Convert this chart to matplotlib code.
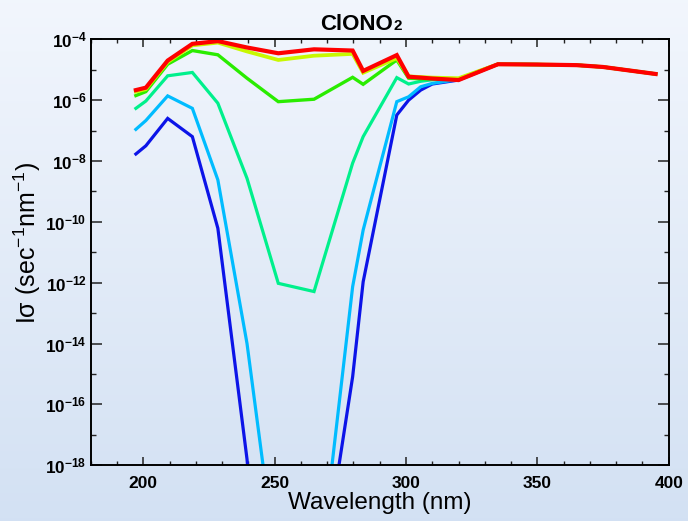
import numpy as np
import matplotlib
matplotlib.use("Agg")
import matplotlib.pyplot as plt
from matplotlib.ticker import FixedLocator, FixedFormatter

plt.rcParams['font.family'] = ['Liberation Sans', 'DejaVu Sans']
plt.rcParams['mathtext.fontset'] = 'custom'
plt.rcParams['mathtext.rm'] = 'Liberation Sans'
plt.rcParams['mathtext.bf'] = 'Liberation Sans:bold'

# ---- data (log10 of I*sigma) ----
wavelength = [197.2, 201, 209.3, 218.7, 228.4, 239.5, 251.4, 265, 279.7, 283.7,
              296.5, 301, 305.6, 310, 320, 335, 350, 365, 375, 395]
log_blue = [-7.77, -7.50, -6.60, -7.20, -10.21, -17.8, -30.0, -23.3, -15.09, -11.97,
            -6.49, -6.00, -5.67, -5.47, -5.34, -4.82, -4.83, -4.85, -4.91, -5.14]
log_sky = [-6.96, -6.67, -5.86, -6.27, -8.62, -14.0, -21.8, -23.1, -12.13, -10.27,
           -6.05, -5.89, -5.56, -5.45, -5.32, -4.82, -4.83, -4.85, -4.91, -5.14]
log_spring = [-6.27, -6.03, -5.20, -5.09, -6.10, -8.57, -12.02, -12.29, -8.07, -7.20,
              -5.26, -5.47, -5.38, -5.33, -5.30, -4.82, -4.83, -4.85, -4.91, -5.14]
log_green = [-5.85, -5.72, -4.82, -4.37, -4.51, -5.28, -6.05, -5.97, -5.25, -5.48,
             -4.68, -5.28, -5.30, -5.30, -5.30, -4.82, -4.83, -4.85, -4.91, -5.14]
log_yellow = [-5.72, -5.64, -4.75, -4.20, -4.11, -4.40, -4.68, -4.54, -4.48, -5.10,
              -4.62, -5.22, -5.24, -5.26, -5.28, -4.82, -4.83, -4.85, -4.91, -5.14]
log_red = [-5.67, -5.59, -4.70, -4.15, -4.06, -4.27, -4.46, -4.33, -4.37, -5.04,
           -4.52, -5.23, -5.26, -5.29, -5.34, -4.82, -4.83, -4.85, -4.91, -5.14]

series = [log_blue, log_sky, log_spring, log_green, log_yellow, log_red]
colors = ['#0c14e8', '#00bcff', '#00f08c', '#2aec00', '#c8f800', '#ff0000']
widths = [2.3, 2.3, 2.3, 2.4, 2.7, 3.0]

y_major = [1e-4, 1e-6, 1e-8, 1e-10, 1e-12, 1e-14, 1e-16, 1e-18]
y_labels = [r'$\mathbf{10^{-4}}$', r'$\mathbf{10^{-6}}$', r'$\mathbf{10^{-8}}$',
            r'$\mathbf{10^{-10}}$', r'$\mathbf{10^{-12}}$', r'$\mathbf{10^{-14}}$',
            r'$\mathbf{10^{-16}}$', r'$\mathbf{10^{-18}}$']
y_minor = [1e-5, 1e-7, 1e-9, 1e-11, 1e-13, 1e-15, 1e-17]
x_major = [200, 250, 300, 350, 400]

fig = plt.figure(figsize=(6.88, 5.21), dpi=100)

# background gradient
bg = fig.add_axes([0, 0, 1, 1], zorder=-10)
grad = np.linspace(0, 1, 256).reshape(-1, 1)
top = np.array([0.949, 0.965, 0.992])
bot = np.array([0.827, 0.882, 0.953])
img = top[None, None, :] * (1 - grad[:, :, None]) + bot[None, None, :] * grad[:, :, None]
bg.imshow(img, aspect='auto', extent=[0, 1, 0, 1])
bg.set_axis_off()

ax = fig.add_axes([0.1318, 0.1069, 0.972 - 0.1318, 0.9246 - 0.1069])
ax.patch.set_alpha(0)

for vals, c, lw in zip(series, colors, widths):
    ax.plot(wavelength, 10.0 ** np.array(vals), color=c, lw=lw, solid_joinstyle='miter')

ax.set_yscale('log')
ax.set_xlim(180, 400)
ax.set_ylim(1e-18, 1e-4)
ax.yaxis.set_major_locator(FixedLocator(y_major))
ax.yaxis.set_major_formatter(FixedFormatter(y_labels))
ax.yaxis.set_minor_locator(FixedLocator(y_minor))
ax.yaxis.set_minor_formatter(FixedFormatter([''] * len(y_minor)))
ax.xaxis.set_major_locator(FixedLocator(x_major))
ax.xaxis.set_minor_locator(FixedLocator(list(range(180, 401, 10))))
ax.set_xticklabels([str(v) for v in x_major], fontweight='bold', fontsize=12.5)

ax.tick_params(axis='both', which='both', direction='in', top=True, right=True, color='#222222')
ax.tick_params(axis='y', which='major', length=8, width=1.1, labelsize=12.3, pad=3)
ax.tick_params(axis='y', which='minor', length=3.8, width=1.0)
ax.tick_params(axis='x', which='major', length=6, width=1.1, pad=8)
ax.tick_params(axis='x', which='minor', length=3, width=1.0)
for s in ax.spines.values():
    s.set_linewidth(1.4)
    s.set_color('black')

ax.set_xlabel('Wavelength (nm)', fontsize=17.5, labelpad=0.5)
fig.text(0.040, 1 - 243 / 521, 'I\u03c3 (sec$^{-1}$nm$^{-1}$)', rotation=90, fontsize=18,
         ha='center', va='center')

fig.text(393 / 688, 1 - 30 / 521, 'ClONO', fontsize=16, fontweight='bold', ha='right', va='baseline')
fig.text(393 / 688, 1 - 30 / 521, '2', fontsize=11, fontweight='bold', ha='left', va='baseline')

fig.savefig('out.png', dpi=100)
